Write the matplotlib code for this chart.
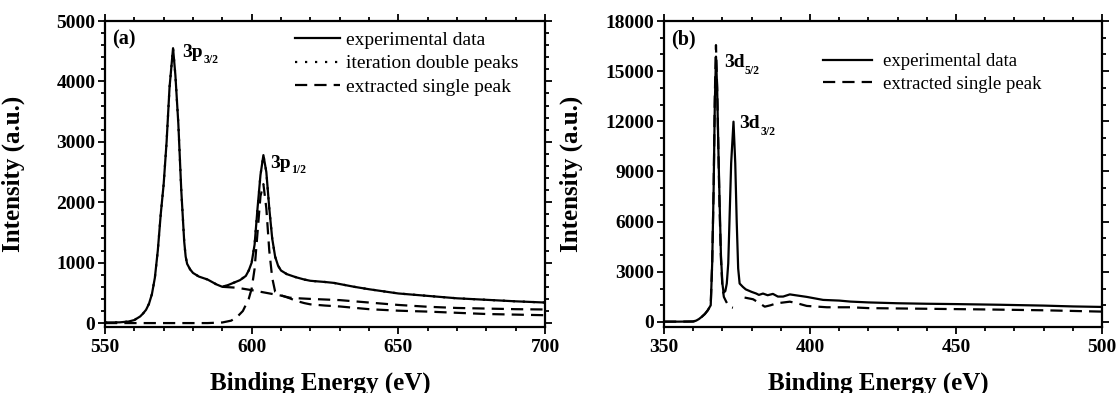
import numpy as np
import matplotlib
matplotlib.use("Agg")
import matplotlib.pyplot as plt
from matplotlib.ticker import MultipleLocator

plt.rcParams['font.family'] = ['Liberation Serif', 'DejaVu Serif']

# ---------------- panel (a): 3p region ----------------
a_exp_x = [550, 555, 558, 560, 562, 563, 564, 565, 566, 567, 568, 569, 570, 571, 572, 573.2,
           574, 575, 576, 577, 577.5, 578, 579, 580, 582, 585, 588, 590, 592, 594, 596, 598,
           599, 600, 601, 602, 603, 604, 605, 606, 607, 608, 609, 610, 612, 615, 618, 620,
           625, 628, 635, 640, 650, 660, 670, 680, 690, 700]
a_exp_y = [10, 12, 25, 50, 110, 160, 220, 320, 480, 750, 1200, 1800, 2300, 3000, 3900, 4550,
           4100, 3300, 2200, 1350, 1100, 980, 890, 830, 770, 720, 640, 600, 630, 670, 710, 780,
           870, 1000, 1300, 1900, 2450, 2780, 2500, 1900, 1400, 1100, 950, 870, 810, 760, 720, 700,
           680, 665, 600, 560, 490, 450, 410, 385, 360, 340]
# iteration double peaks coincide with the experimental curve
a_double_x = a_exp_x
a_double_y = a_exp_y
# extracted single peak (3p1/2)
a_single_x = [550, 585, 590, 593, 595, 597, 599, 600, 601, 602, 603, 604, 605, 606, 607, 608,
              610, 613, 615, 618, 620, 625, 630, 640, 650, 660, 670, 680, 690, 700]
a_single_y = [0, 0, 10, 40, 100, 200, 400, 570, 900, 1500, 2100, 2300, 1900, 1200, 750, 520,
              460, 410, 370, 330, 310, 290, 275, 230, 205, 190, 170, 150, 140, 130]
# background of the extracted peak
a_bg_x = [590, 595, 600, 605, 610, 613, 616, 620, 630, 640, 650, 660, 670, 680, 690, 700]
a_bg_y = [600, 585, 545, 500, 455, 420, 410, 400, 380, 340, 300, 270, 250, 240, 230, 225]

# ---------------- panel (b): 3d region ----------------
b_exp_x = [350, 355, 358, 360, 361, 362, 363, 364, 365, 366, 366.5, 367, 367.4, 367.8, 368.2,
           368.6, 369, 369.5, 370, 370.4, 371, 371.5, 372, 372.5, 373, 373.8, 374.4, 374.9,
           375.4, 375.9, 377, 378, 380, 381.6, 382.5, 383.9, 385.5, 387.3, 389, 390.8, 393.1,
           395, 398.9, 404.5, 410, 413.8, 420, 430, 440, 450, 465, 480, 490, 500]
b_exp_y = [20, 20, 25, 30, 80, 180, 320, 480, 700, 1000, 3500, 8000, 13000, 15870, 14000,
           10500, 7500, 4000, 2300, 1750, 1850, 2300, 3500, 6500, 9500, 11980, 9500, 6000,
           3200, 2300, 2100, 1950, 1800, 1700, 1620, 1700, 1600, 1680, 1520, 1520, 1650,
           1600, 1500, 1320, 1280, 1220, 1170, 1120, 1090, 1070, 1030, 980, 930, 900]
# extracted single peak (3d5/2) and its tail
b_single_x = [350, 355, 358, 360, 361, 362, 363, 364, 365, 366, 366.5, 367, 367.4, 367.8,
              368.2, 368.6, 369, 369.5, 370, 370.5, 371.3, 372, 373, 373.6, np.nan,
              377.6, 380.5, 382.5, 384.5, 386.5, 388.5, 393.1, 396, 398.9, 405.8, 413.8,
              420, 440, 460, 480, 500]
b_single_y = [20, 20, 25, 30, 80, 180, 320, 480, 700, 1000, 3500, 8000, 13500, 16560,
              14000, 10500, 7000, 3800, 2100, 1500, 1215, 1000, 880, 850, np.nan,
              1460, 1360, 1150, 915, 1000, 1115, 1215, 1100, 960, 880, 880,
              830, 790, 750, 700, 620]

xlims = [(550, 700), (350, 500)]
ylims = [(-65, 5000), (-300, 18000)]
yticks_major = [1000, 3000]
yticks_minor = [200, 1000]
panel_tags = ['(a)', '(b)']

fig = plt.figure(figsize=(11.18, 3.93), dpi=100)
W, H = 1118, 393
axA = fig.add_axes([105 / W, (H - 327) / H, 440 / W, 306 / H])
axB = fig.add_axes([664 / W, (H - 327) / H, 438 / W, 306 / H])

lw = 1.6
dash = (5.5, 3.2)

axA.plot(a_exp_x, a_exp_y, color='black', lw=lw, label='experimental data')
axA.plot(a_double_x, a_double_y, color='black', lw=lw, ls=(0, (1, 3.5)),
         label='iteration double peaks')
axA.plot(a_single_x, a_single_y, color='black', lw=lw, ls=(0, dash),
         label='extracted single peak')
axA.plot(a_bg_x, a_bg_y, color='black', lw=lw, ls=(0, dash))

axB.plot(b_exp_x, b_exp_y, color='black', lw=lw, label='experimental data')
axB.plot(b_single_x, b_single_y, color='black', lw=lw, ls=(0, dash),
         label='extracted single peak')

for i, ax in enumerate([axA, axB]):
    ax.set_xlim(*xlims[i])
    ax.set_ylim(*ylims[i])
    ax.xaxis.set_major_locator(MultipleLocator(50))
    ax.xaxis.set_minor_locator(MultipleLocator(10))
    ax.yaxis.set_major_locator(MultipleLocator(yticks_major[i]))
    ax.yaxis.set_minor_locator(MultipleLocator(yticks_minor[i]))
    ax.tick_params(which='both', direction='out', top=True, right=True,
                   width=1.3, labelsize=14)
    ax.tick_params(which='major', length=5)
    ax.tick_params(which='minor', length=3)
    ax.tick_params(axis='x', which='major', pad=4)
    ax.tick_params(axis='y', which='major', pad=2)
    for lab in ax.get_xticklabels() + ax.get_yticklabels():
        lab.set_fontweight('bold')
    for sp in ax.spines.values():
        sp.set_linewidth(1.6)
    ax.set_xlabel('Binding Energy (eV)', fontsize=18, fontweight='bold')
    ax.set_ylabel('Intensity (a.u.)', fontsize=18, fontweight='bold')
    ax.text(0.016, 0.938, panel_tags[i], transform=ax.transAxes, fontsize=14.5,
            fontweight='bold', va='center', ha='left')

axA.xaxis.set_label_coords(0.49, -0.145)
axB.xaxis.set_label_coords(0.49, -0.145)
axA.yaxis.set_label_coords(-0.182, 0.5)
axB.yaxis.set_label_coords(-0.185, 0.5)


def peak_label(ax, x, y, main, sub, dy):
    t = ax.text(x, y, main, fontsize=14, fontweight='bold', ha='left', va='baseline')
    ax.annotate(sub, xy=(1, 0), xycoords=t, xytext=(0.3, dy),
                textcoords='offset points', fontsize=8.5, fontweight='bold',
                ha='left', va='baseline')


peak_label(axA, 576.3, 4400, '3p', '3/2', -1.0)
peak_label(axA, 606.3, 2570, '3p', '1/2', -1.0)
peak_label(axB, 370.5, 15250, '3d', '5/2', -2.5)
peak_label(axB, 375.7, 11600, '3d', '3/2', -2.5)

legA = axA.legend(loc='upper left', bbox_to_anchor=(0.432, 0.966), frameon=False,
                  fontsize=14, handlelength=2.3, handletextpad=0.3,
                  labelspacing=0.3, borderpad=0, borderaxespad=0)
legB = axB.legend(loc='upper left', bbox_to_anchor=(0.363, 0.895), frameon=False,
                  fontsize=13.5, handlelength=2.6, handletextpad=0.6,
                  labelspacing=0.3, borderpad=0, borderaxespad=0)

fig.savefig('out.png', dpi=100)
